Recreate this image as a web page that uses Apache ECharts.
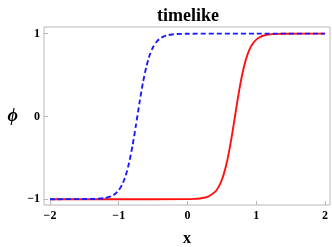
<!DOCTYPE html>
<html>
<head>
<meta charset="utf-8">
<script src="https://cdn.jsdelivr.net/npm/echarts@6/dist/echarts.min.js"></script>
<style>
html,body{margin:0;padding:0;background:#fff;}
#c{width:332px;height:247px;}
</style>
</head>
<body>
<div id="c"></div>
<script>
var titleText = 'timelike';
var xName = 'x';
var yName = 'ϕ';

// red solid curve (x, phi)
var redX = [-2, -1, 0, 0.1, 0.2, 0.3, 0.4, 0.45, 0.5, 0.55, 0.6, 0.65, 0.7, 0.75, 0.8, 0.85, 0.9, 0.95, 1.0, 1.05, 1.1, 1.2, 1.3, 1.4, 2];
var redY = [-1, -1, -0.999, -0.996, -0.989, -0.968, -0.912, -0.854, -0.765, -0.630, -0.444, -0.209, 0.053, 0.308, 0.525, 0.690, 0.806, 0.880, 0.928, 0.956, 0.974, 0.991, 0.997, 0.999, 1];

// blue dashed curve (x, phi)
var blueX = [-2, -1.4, -1.3, -1.2, -1.1, -1.05, -1.0, -0.95, -0.9, -0.85, -0.8, -0.75, -0.7, -0.65, -0.6, -0.55, -0.5, -0.45, -0.4, -0.35, -0.3, -0.2, 0, 1, 2];
var blueY = [-1, -0.998, -0.995, -0.986, -0.961, -0.935, -0.892, -0.823, -0.717, -0.562, -0.355, -0.106, 0.158, 0.400, 0.597, 0.742, 0.839, 0.902, 0.941, 0.965, 0.979, 0.993, 0.999, 1, 1];

var xTicks = [-2, -1, 0, 1, 2];
var yTicks = [-1, 0, 1];

function pairs(xs, ys){ return xs.map(function(v,i){ return [v, ys[i]]; }); }
function fmt(v){
  var r = Math.round(v*1000)/1000;
  return String(r).replace('-', '\u2212');
}

var serif = "'Liberation Serif','DejaVu Serif','Times New Roman',serif";
var gridColor = '#b8b8b8';

var chart = echarts.init(document.getElementById('c'), null, {renderer:'canvas'});
chart.setOption({
  animation:false,
  backgroundColor:'#fff',
  title:{
    text:titleText,
    left:183, top:2, textAlign:'center',
    textStyle:{fontFamily:serif, fontWeight:'bold', fontSize:18, color:'#000'}
  },
  grid:{
    left:44, right:2, top:27, bottom:42,
    outerBoundsMode:'none', containLabel:false,
    show:true, borderColor:gridColor, borderWidth:1, backgroundColor:'transparent'
  },
  xAxis:{
    type:'value',
    min:-2.087, max:2.072,
    splitNumber:4, minInterval:1, maxInterval:1,
    name:xName, nameLocation:'middle', nameGap:26,
    nameTextStyle:{fontFamily:serif, fontWeight:'bold', fontSize:16, color:'#000'},
    axisLine:{show:false, onZero:false},
    axisTick:{show:true, inside:true, length:4, lineStyle:{color:gridColor}},
    splitLine:{show:false},
    axisLabel:{
      showMinLabel:false, showMaxLabel:false, margin:5,
      fontFamily:serif, fontWeight:'bold', fontSize:12, color:'#000',
      formatter:function(v){ return xTicks.indexOf(Math.round(v*1000)/1000) >= 0 ? fmt(v) : ''; }
    }
  },
  yAxis:{
    type:'value',
    min:-1.07, max:1.08,
    splitNumber:2, minInterval:1, maxInterval:1,
    name:yName, nameLocation:'middle', nameGap:26, nameRotate:0,
    nameTextStyle:{fontFamily:serif, fontWeight:'bold', fontStyle:'italic', fontSize:18, color:'#000'},
    axisLine:{show:false, onZero:false},
    axisTick:{show:true, inside:true, length:4, lineStyle:{color:gridColor}},
    splitLine:{show:false},
    axisLabel:{
      showMinLabel:false, showMaxLabel:false, margin:4,
      fontFamily:serif, fontWeight:'bold', fontSize:12, color:'#000',
      formatter:function(v){ return yTicks.indexOf(Math.round(v*1000)/1000) >= 0 ? fmt(v) : ''; }
    }
  },
  series:[
    {
      type:'line', data:pairs(redX, redY), showSymbol:false, smooth:0.2,
      lineStyle:{color:'#ff1010', width:1.9}
    },
    {
      type:'line', data:pairs(blueX, blueY), showSymbol:false, smooth:0.2,
      lineStyle:{color:'#1a1aff', width:1.9, type:[5,3]}
    }
  ]
});
</script>
</body>
</html>
